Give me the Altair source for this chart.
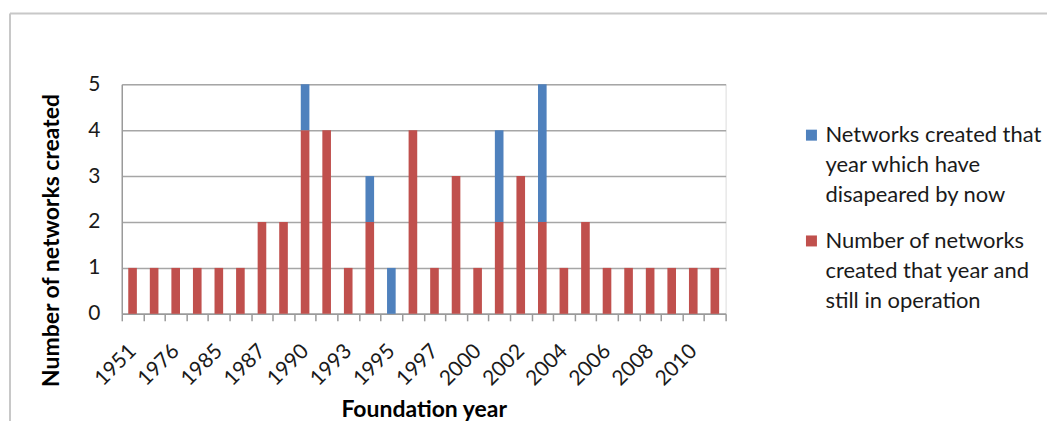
import altair as alt
import pandas as pd

years = ["1951", "1970", "1976", "1980", "1985", "1986", "1987", "1988", "1990", "1991",
         "1993", "1994", "1995", "1996", "1997", "1999", "2000", "2001", "2002", "2003",
         "2004", "2005", "2006", "2007", "2008", "2009", "2010", "2011"]
still_operating = [1, 1, 1, 1, 1, 1, 2, 2, 4, 4, 1, 2, 0, 4, 1, 3, 1, 2, 3, 2, 1, 2, 1, 1, 1, 1, 1, 1]
disappeared = [0, 0, 0, 0, 0, 0, 0, 0, 1, 0, 0, 1, 1, 0, 0, 0, 0, 2, 0, 3, 0, 0, 0, 0, 0, 0, 0, 0]
shown_labels = ["1951", "1976", "1985", "1987", "1990", "1993", "1995", "1997", "2000",
                "2002", "2004", "2006", "2008", "2010"]

series_blue = "Networks created that|year which have|disapeared by now"
series_red = "Number of networks|created that year and|still in operation"
colors = ["#4F81BD", "#C0504D"]

rows = []
for y, r, b in zip(years, still_operating, disappeared):
    rows.append({"year": y, "series": series_red, "value": r, "order": 0})
    rows.append({"year": y, "series": series_blue, "value": b, "order": 1})
df = pd.DataFrame(rows)

label_list = "[" + ",".join("'%s'" % s for s in shown_labels) + "]"
FONT = "Lato"

bars = alt.Chart(df).mark_bar(width=alt.RelativeBandSize(0.4)).encode(
    x=alt.X("year:N", sort=years, title="Foundation year",
            scale=alt.Scale(paddingInner=0, paddingOuter=0),
            axis=alt.Axis(labelAngle=315, labelAlign="right", labelBaseline="middle",
                          labelPadding=27, labelFontSize=21, labelFont=FONT, labelColor="#1a1a1a",
                          labelExpr="indexof(%s, datum.label) >= 0 ? datum.label : ''" % label_list,
                          tickBand="extent", tickSize=7, tickColor="#9a9a9a", tickWidth=1.5,
                          domainColor="#9a9a9a", domainWidth=1.5, grid=False,
                          titleFont=FONT, titleFontSize=23, titleFontWeight="bold", titleColor="#000000",
                          titleBaseline="middle", titleY=96, labelOverlap=False)),
    y=alt.Y("value:Q", title="Number of networks created",
            scale=alt.Scale(domain=[0, 5], nice=False),
            axis=alt.Axis(values=[0, 1, 2, 3, 4, 5], format="d", ticks=False,
                          labelPadding=22, labelFontSize=21, labelFont=FONT, labelColor="#1a1a1a",
                          domainColor="#9a9a9a", domainWidth=1.5,
                          gridColor="#a6a6a6", gridWidth=1.5,
                          titleFont=FONT, titleFontSize=23, titleFontWeight="bold", titleColor="#000000",
                          titleBaseline="middle", titleX=-70, titleY=156)),
    color=alt.Color("series:N", scale=alt.Scale(domain=[series_blue, series_red], range=colors),
                    legend=alt.Legend(title=None, orient="none", legendX=680, legendY=40,
                                      symbolType="square", symbolSize=121, symbolStrokeWidth=0,
                                      labelFont=FONT, labelFontSize=22, labelColor="#1a1a1a",
                                      labelLimit=400, labelOffset=3, rowPadding=24,
                                      labelExpr="split(datum.label, '|')")),
    order=alt.Order("order:Q", sort="ascending"),
)

frame_src = pd.DataFrame({"k": [0]})
top_line = alt.Chart(frame_src).mark_rule(color="#c8c8c8", strokeWidth=2).encode(
    x=alt.value(-112), x2=alt.value(933), y=alt.value(-71))
left_line = alt.Chart(frame_src).mark_rule(color="#c8c8c8", strokeWidth=2).encode(
    x=alt.value(-112), y=alt.value(-71), y2=alt.value(345))

chart = alt.layer(bars, top_line, left_line).properties(
    width=605, height=230,
    autosize=alt.AutoSizeParams(type="none"),
    padding={"left": 114, "top": 76, "right": 322, "bottom": 115},
).configure_view(stroke=None).configure(
    background="white",
    style={"guide-label": {"lineHeight": 30}},
)

chart.save("out.html", embed_options={"renderer": "svg", "actions": False})
